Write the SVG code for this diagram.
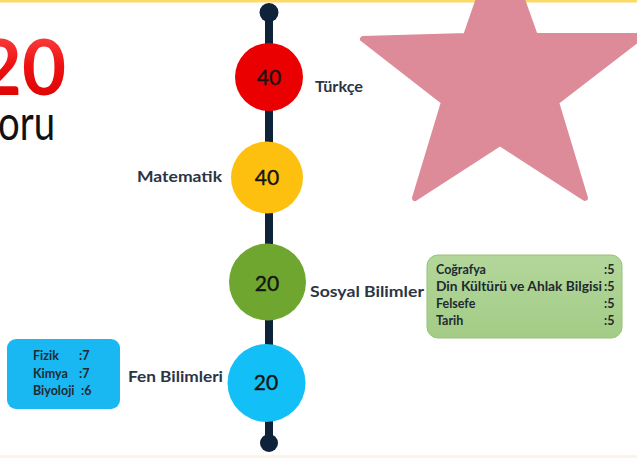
<svg xmlns="http://www.w3.org/2000/svg" width="637" height="458" viewBox="0 0 637 458">
<defs>
<linearGradient id="redg" x1="0" y1="0" x2="0" y2="1">
<stop offset="0" stop-color="#ff5555"/>
<stop offset="0.5" stop-color="#ee1111"/>
<stop offset="1" stop-color="#d80000"/>
</linearGradient>
<linearGradient id="greeng" x1="0" y1="0" x2="0" y2="1">
<stop offset="0" stop-color="#b3d79b"/>
<stop offset="1" stop-color="#a3cc86"/>
</linearGradient>
</defs>
<style>
.lbl{font-family:Lato,"Open Sans","Liberation Sans",sans-serif;font-weight:700;font-size:16px;fill:#2b3445}
.num{font-family:Lato,"Open Sans","Liberation Sans",sans-serif;font-weight:400;font-size:21px;fill:#151515;stroke:#151515;stroke-width:0.4;text-anchor:middle}
.box{font-family:Lato,"Open Sans","Liberation Sans",sans-serif;font-weight:700;font-size:12.5px;fill:#1e2a30}
</style>
<rect x="0" y="0" width="637" height="458" fill="#ffffff"/>
<rect x="0" y="0" width="637" height="2.5" fill="#ffd966"/>
<rect x="0" y="455" width="637" height="3" fill="#fbf5e6"/>

<g id="title">
<text x="66" y="95" text-anchor="end" font-family="Lato,'Liberation Sans',sans-serif" font-weight="700" font-size="76" fill="url(#redg)">20</text>
<text x="-2" y="140" font-family="Lato,'Liberation Sans',sans-serif" font-weight="400" font-size="48" fill="#111" textLength="57" lengthAdjust="spacingAndGlyphs">oru</text>
</g>

<g id="connectors">
<line x1="269" y1="12" x2="269" y2="443" stroke="#0e223a" stroke-width="8"/>
<circle cx="269" cy="12.5" r="9.5" fill="#0e223a"/>
<circle cx="269" cy="443" r="9" fill="#0e223a"/>
</g>

<g id="turkce">
<circle cx="269" cy="77" r="34" fill="#ea0000"/>
<text class="num" x="269" y="85">40</text>
<text class="lbl" x="315" y="92" textLength="48" lengthAdjust="spacingAndGlyphs">Türkçe</text>
</g>

<g id="matematik">
<circle cx="267" cy="177.5" r="36" fill="#fec00f"/>
<text class="num" x="267" y="185">40</text>
<text class="lbl" x="137" y="182" textLength="85" lengthAdjust="spacingAndGlyphs">Matematik</text>
</g>

<g id="sosyal">
<circle cx="267.5" cy="282" r="38.5" fill="#6fa62f"/>
<text class="num" x="267" y="291">20</text>
<text class="lbl" x="310" y="297" textLength="114" lengthAdjust="spacingAndGlyphs">Sosyal Bilimler</text>
</g>

<g id="sosyal-detay">
<rect x="427" y="255" width="195" height="83" rx="11" fill="url(#greeng)" stroke="#94c277" stroke-width="1"/>
<text class="box" x="436" y="274">Coğrafya</text>
<text class="box" x="436" y="291" textLength="166" lengthAdjust="spacingAndGlyphs">Din Kültürü ve Ahlak Bilgisi</text>
<text class="box" x="436" y="308">Felsefe</text>
<text class="box" x="436" y="325">Tarih</text>
<text class="box" x="604" y="274">:5</text>
<text class="box" x="604" y="291">:5</text>
<text class="box" x="604" y="308">:5</text>
<text class="box" x="604" y="325">:5</text>
</g>

<g id="fen">
<circle cx="266.5" cy="383" r="39" fill="#12bff7"/>
<text class="num" x="266" y="390">20</text>
<text class="lbl" x="128" y="382" textLength="95" lengthAdjust="spacingAndGlyphs">Fen Bilimleri</text>
</g>

<g id="fen-detay">
<rect x="7" y="339" width="113" height="70" rx="9" fill="#19b8f2"/>
<text class="box" x="33" y="360">Fizik</text>
<text class="box" x="79" y="360">:7</text>
<text class="box" x="33" y="378">Kimya</text>
<text class="box" x="79" y="378">:7</text>
<text class="box" x="33" y="395">Biyoloji</text>
<text class="box" x="81" y="395">:6</text>
</g>

<g id="star">
<polygon points="500,-62 535,36 642,36 556,102 585,198 500,143 415,198 444,102 363,39 466,36" fill="#dd8b98" stroke="#dd8b98" stroke-width="6" stroke-linejoin="round"/>
</g>
</svg>
